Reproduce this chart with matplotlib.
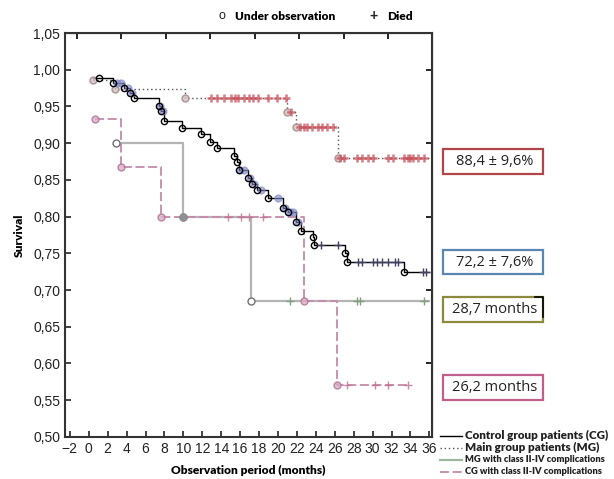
import numpy as np
import matplotlib.pyplot as plt
from matplotlib.lines import Line2D
from matplotlib.patches import Rectangle

# --- Kaplan-Meier curves (time in months, survival) ---
# Control group (CG): black solid line
cg_t = [0.5, 2.6, 3.7, 4.4, 4.8, 7.4, 7.6, 7.9, 9.9, 11.9, 12.8, 13.6, 15.4, 15.7,
        15.9, 16.8, 17.3, 17.8, 18.9, 20.5, 21.1, 21.9, 22.4, 23.7, 23.8, 27.1, 27.3, 33.3]
cg_s = [0.989, 0.982, 0.975, 0.969, 0.961, 0.950, 0.944, 0.930, 0.921, 0.912, 0.902, 0.893,
        0.883, 0.874, 0.863, 0.853, 0.845, 0.836, 0.825, 0.812, 0.806, 0.792, 0.781, 0.772,
        0.761, 0.750, 0.738, 0.724]
cg_cens = [24.5, 26.3, 28.5, 28.9, 30.0, 30.5, 31.0, 31.6, 32.4, 32.7, 35.3, 35.6]
cg_blue = [3.0, 3.4, 4.1, 4.6, 7.5, 7.8, 16.0, 16.4, 17.0, 17.5, 18.2, 20.0, 20.7, 21.3, 21.6, 22.1]
cg_first = 1.06

# Main group (MG): red markers, dotted line
mg_t = [0.5, 2.8, 10.2, 21.0, 21.9, 26.3]
mg_s = [0.986, 0.974, 0.962, 0.942, 0.922, 0.880]
mg_cens = [12.9, 13.6, 14.3, 15.0, 15.5, 15.8, 16.4, 16.9, 17.4, 17.9, 18.9, 19.9, 20.8,
           21.4, 22.3, 22.7, 23.1, 23.6, 24.2, 24.7, 25.2, 25.8, 26.6, 27.0, 28.4, 28.9,
           29.5, 30.0, 31.6, 32.1, 33.3, 33.7, 34.0, 34.3, 34.8, 35.4]

# MG with class II-IV complications: gray line
mgc_t = [2.9, 10.0, 17.1]
mgc_s = [0.900, 0.800, 0.685]
mgc_cens = [21.3, 28.4, 28.7, 35.4]

# CG with class II-IV complications: pink dashed line
cgc_t = [0.7, 3.4, 7.6, 22.7, 26.2]
cgc_s = [0.933, 0.867, 0.800, 0.685, 0.571]
cgc_cens = [14.7, 16.1, 16.9, 18.4, 27.3, 30.3, 31.6, 33.7]

end_t = [36.0, 36.0, 36.0, 33.7]

box_texts = ['88,4 ± 9,6%', '72,2 ± 7,6%', '28,7 months', '26,2 months']
box_colors = ['#b0454a', '#5a87b0', '#8c8a3c', '#c0608a']

x_ticks = np.arange(-2, 37, 2)
y_ticks = np.arange(0.50, 1.051, 0.05)


def surv_at(times, surv, x):
    idx = np.searchsorted(times, x, side='right') - 1
    return np.array(surv)[np.clip(idx, 0, len(surv) - 1)]


plt.rcParams['font.family'] = ['Liberation Sans', 'DejaVu Sans']
fig = plt.figure(figsize=(6.14, 4.79), dpi=100)
ax = fig.add_axes([0.106, 0.088, 0.598, 0.843])

# step lines
def draw(t, s, end, **kw):
    ax.step(list(t) + [end], list(s) + [s[-1]], where='post', **kw)

draw(mgc_t, mgc_s, end_t[2], color='#b4b4b4', lw=1.6, zorder=2)
draw(cgc_t, cgc_s, end_t[3], color='#c58aa8', lw=1.3, ls=(0, (5, 2)), zorder=2)
draw(mg_t, mg_s, end_t[1], color='#555555', lw=1.0, ls=(0, (1, 2)), zorder=3)
draw(cg_t, cg_s, end_t[0], color='black', lw=1.0, zorder=4)

# markers: pink group
ax.plot(cgc_t, cgc_s, 'o', ms=5, mfc='#d8b0c8', mec='#b07090', alpha=0.8, zorder=5)
ax.plot(cgc_cens, surv_at(cgc_t, cgc_s, cgc_cens), '+', ms=6, color='#c07090', alpha=0.8, zorder=5)
# gray group
ax.plot(mgc_t, mgc_s, 'o', ms=5, mfc='white', mec='#707070', zorder=5)
ax.plot(mgc_t[1], mgc_s[1], 'o', ms=5, color='#909090', zorder=6)
ax.plot(mgc_cens, surv_at(mgc_t, mgc_s, mgc_cens), '+', ms=6, color='#80a080', zorder=5)
# main group
ax.plot(mg_t, mg_s, 'o', ms=5, mfc='#d0c0c0', mec='#a08080', alpha=0.8, zorder=5)
ax.plot(mg_cens, surv_at(mg_t, mg_s, mg_cens), '+', ms=6, mew=1.8, color='#c8505a',
        alpha=0.75, zorder=5)
# control group
ax.plot(cg_blue, surv_at(cg_t, cg_s, cg_blue), 'o', ms=5, color='#8088c8', alpha=0.6, zorder=5)
ax.plot([cg_first] + cg_t[1:], [cg_s[0]] + cg_s[1:], 'o', ms=4.5, mfc='none', mec='black',
        mew=1.0, zorder=6)
ax.plot(cg_cens, surv_at(cg_t, cg_s, cg_cens), '+', ms=6, color='#404060', zorder=6)

# axes
ax.set_xlim(-2.5, 36.3)
ax.set_ylim(0.50, 1.05)
ax.set_xticks(x_ticks)
ax.set_yticks(y_ticks)
ax.set_yticklabels([f'{v:.2f}'.replace('.', ',') for v in y_ticks])
ax.tick_params(direction='in', length=4, width=1.2, labelsize=10, colors='#222222')
for sp in ax.spines.values():
    sp.set_color('#333333')
    sp.set_linewidth(1.5)

top = ax.secondary_xaxis('top')
top.set_xticks(-1.27 + 4.7 * np.arange(8))
top.set_xticklabels([])
top.tick_params(direction='in', length=4, width=1.2)
right = ax.secondary_yaxis('right')
right.set_yticks([0.6, 0.7, 0.8, 0.9, 1.0])
right.set_yticklabels([])
right.tick_params(direction='in', length=4, width=1.2)

lab_font = dict(family=['Lato', 'DejaVu Sans'], weight='heavy', size=8.6)
ax.set_xlabel('Observation period (months)', labelpad=7, **lab_font)
ax.set_ylabel('Survival', labelpad=6, **lab_font)

# top legend
fig.text(0.361, 0.967, 'o', ha='center', va='center', fontsize=9, color='#222222')
fig.text(0.383, 0.965, 'Under observation', va='center', **lab_font)
fig.text(0.609, 0.967, '+', ha='center', va='center', fontsize=10, color='#222222', weight='bold')
fig.text(0.630, 0.965, 'Died', va='center', **lab_font)

# result boxes
box_y = [0.637, 0.427, 0.327, 0.165]
for txt, col, y in zip(box_texts, box_colors, box_y):
    fig.patches.append(Rectangle((0.722, y), 0.162, 0.052, transform=fig.transFigure,
                                 fill=False, ec=col, lw=1.6))
    fig.text(0.806, y + 0.026, txt, ha='center', va='center', fontsize=10.5,
             family=['Open Sans', 'DejaVu Sans'], color='#222222')

# small black bracket on the right of the "28,7 months" box
fig.add_artist(Line2D([0.872, 0.884, 0.884], [box_y[2] + 0.052, box_y[2] + 0.052, box_y[2] + 0.012],
                      transform=fig.transFigure, color='black', lw=1.2))

# bottom-right legend
leg_names = ['Control group patients (CG)', 'Main group patients (MG)',
             'MG with class II-IV complications', 'CG with class II-IV complications']
leg_styles = [dict(color='black', lw=1.0), dict(color='#555555', lw=1.0, ls=(0, (1, 2))),
              dict(color='#9cb89c', lw=1.6), dict(color='#c58aa8', lw=1.3, ls=(0, (5, 2)))]
leg_sizes = [8.4, 8.4, 6.7, 6.7]
for i, (name, st, fs) in enumerate(zip(leg_names, leg_styles, leg_sizes)):
    y = 0.090 - i * 0.025
    fig.add_artist(Line2D([0.717, 0.752], [y, y], transform=fig.transFigure, **st))
    fig.text(0.758, y, name, va='center', family=['Lato', 'DejaVu Sans'],
             weight='heavy', size=fs, color='#222222')

fig.savefig('out.png', dpi=100)
